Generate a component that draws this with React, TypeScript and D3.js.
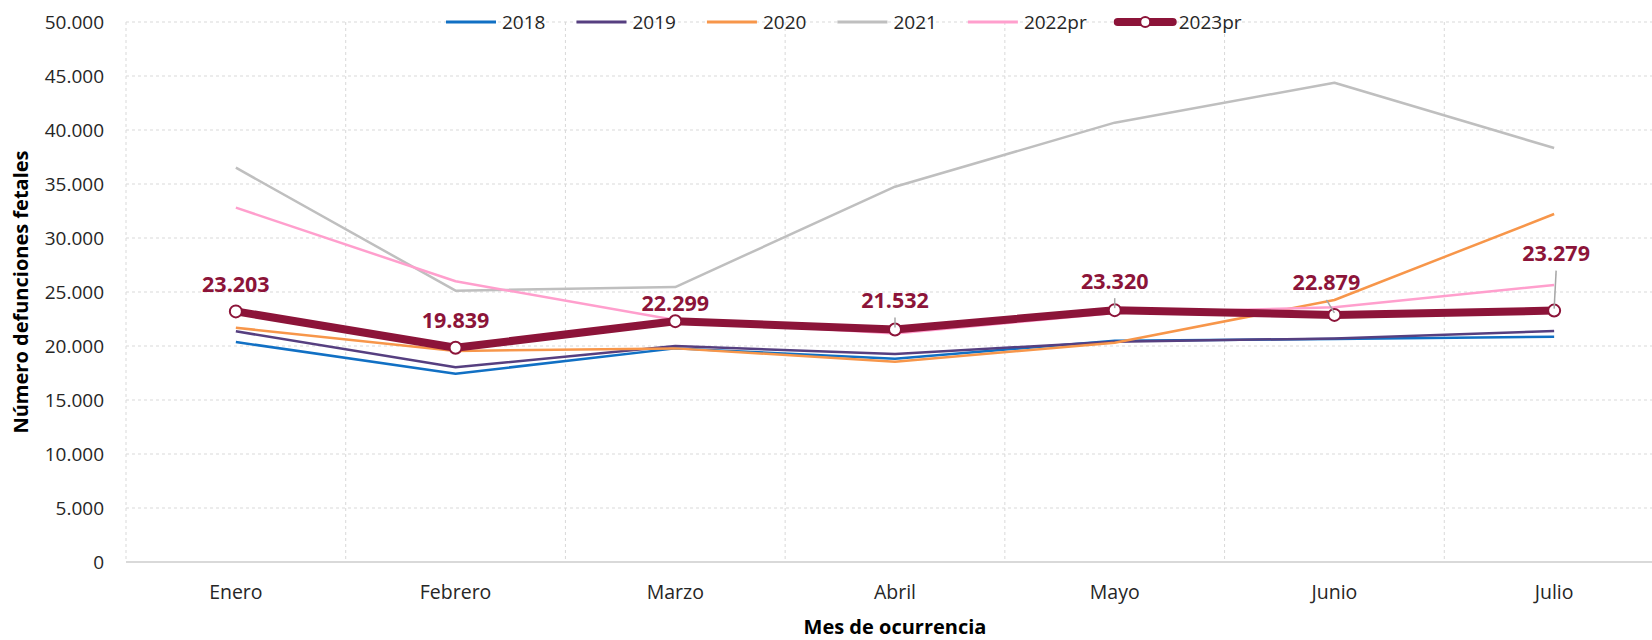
import React, { useEffect, useRef } from 'react';
import * as d3 from 'd3';

// Defunciones fetales por mes de ocurrencia
const months = ['Enero', 'Febrero', 'Marzo', 'Abril', 'Mayo', 'Junio', 'Julio'];
const seriesNames = ['2018', '2019', '2020', '2021', '2022pr', '2023pr'];

const v2018 = [20370, 17440, 19780, 18830, 20490, 20650, 20860];
const v2019 = [21360, 18030, 20000, 19260, 20400, 20700, 21390];
const v2020 = [21690, 19540, 19780, 18550, 20310, 24260, 32220];
const v2021 = [36510, 25120, 25460, 34750, 40680, 44380, 38330];
const v2022pr = [32810, 25990, 22400, 21150, 23050, 23580, 25650];
const v2023pr = [23203, 19839, 22299, 21532, 23320, 22879, 23279];

const yTicks = [0, 5000, 10000, 15000, 20000, 25000, 30000, 35000, 40000, 45000, 50000];

const colors = ['#1170c4', '#563f80', '#f7964a', '#bfbfbf', '#ff9fcd', '#8c1439'];

// where each 2023pr label sits relative to its point, and whether it gets a leader line
const labelShift = [[0, -27], [0, -27], [0, -18], [0, -29], [0, -29], [-8, -32], [2, -57]];
const hasLeader = [false, false, false, true, true, true, true];

const W = 1652;
const H = 640;
const FONT = '"Open Sans", "Noto Sans", sans-serif';

const App = () => {
  const svgRef = useRef<SVGSVGElement>(null);

  useEffect(() => {
    document.body.style.margin = '0';
    const svg = d3.select(svgRef.current);
    svg.selectAll('*').remove();

    const allSeries = [v2018, v2019, v2020, v2021, v2022pr, v2023pr];

    const x = d3.scaleBand<string>().domain(months).range([126, 1664]);
    const y = d3.scaleLinear().domain([0, 50000]).range([562, 22]);
    const cx = (m: string) => (x(m) as number) + x.bandwidth() / 2;

    const locale = d3.formatLocale({ decimal: ',', thousands: '.', grouping: [3], currency: ['', ''] });
    const fmt = locale.format(',d');

    // grid
    const grid = svg.append('g');
    grid.selectAll('line.h')
      .data(yTicks.filter(t => t > 0))
      .join('line')
      .attr('class', 'h')
      .attr('x1', 126).attr('x2', W)
      .attr('y1', d => y(d)).attr('y2', d => y(d))
      .attr('stroke', '#d9d9d9')
      .attr('stroke-dasharray', '3,3');

    grid.selectAll('line.v')
      .data(months)
      .join('line')
      .attr('class', 'v')
      .attr('x1', d => x(d) as number).attr('x2', d => x(d) as number)
      .attr('y1', y(50000)).attr('y2', y(0))
      .attr('stroke', '#d9d9d9')
      .attr('stroke-dasharray', '3,3');

    svg.append('line')
      .attr('x1', 126).attr('x2', W)
      .attr('y1', y(0)).attr('y2', y(0))
      .attr('stroke', '#d9d9d9')
      .attr('stroke-width', 2);

    // y tick labels
    svg.append('g')
      .selectAll('text')
      .data(yTicks)
      .join('text')
      .attr('x', 104)
      .attr('y', d => y(d))
      .attr('dy', '0.35em')
      .attr('text-anchor', 'end')
      .style('font-family', FONT)
      .style('font-size', '19px')
      .style('fill', '#262626')
      .text(d => fmt(d));

    // x tick labels
    svg.append('g')
      .selectAll('text')
      .data(months)
      .join('text')
      .attr('x', d => cx(d))
      .attr('y', 599)
      .attr('text-anchor', 'middle')
      .style('font-family', FONT)
      .style('font-size', '19.5px')
      .style('fill', '#262626')
      .text(d => d);

    // axis titles
    svg.append('text')
      .attr('x', (126 + 1664) / 2)
      .attr('y', 634)
      .attr('text-anchor', 'middle')
      .style('font-family', FONT)
      .style('font-size', '20px')
      .style('font-weight', '700')
      .style('fill', '#000')
      .text('Mes de ocurrencia');

    svg.append('text')
      .attr('transform', `translate(28,${(22 + 562) / 2}) rotate(-90)`)
      .attr('text-anchor', 'middle')
      .style('font-family', FONT)
      .style('font-size', '20px')
      .style('font-weight', '700')
      .style('fill', '#000')
      .text('Número defunciones fetales');

    // lines
    const line = d3.line<number>()
      .x((_, i) => cx(months[i]))
      .y(d => y(d));

    svg.append('g')
      .selectAll('path')
      .data(allSeries)
      .join('path')
      .attr('d', d => line(d))
      .attr('fill', 'none')
      .attr('stroke', (_, i) => colors[i])
      .attr('stroke-width', (_, i) => (i === 5 ? 8 : 2.5))
      .attr('stroke-linejoin', 'round');

    // 2023pr markers
    svg.append('g')
      .selectAll('circle')
      .data(v2023pr)
      .join('circle')
      .attr('cx', (_, i) => cx(months[i]))
      .attr('cy', d => y(d))
      .attr('r', 6)
      .attr('fill', '#fff')
      .attr('stroke', colors[5])
      .attr('stroke-width', 2);

    // leader lines
    svg.append('g')
      .selectAll('line')
      .data(v2023pr.map((v, i) => ({ v, i })).filter(d => hasLeader[d.i]))
      .join('line')
      .attr('x1', d => cx(months[d.i]) + labelShift[d.i][0])
      .attr('y1', d => y(d.v) + labelShift[d.i][1] + 17)
      .attr('x2', d => cx(months[d.i]))
      .attr('y2', d => y(d.v) - 2)
      .attr('stroke', '#a6a6a6')
      .attr('stroke-width', 1.5);

    // data labels
    svg.append('g')
      .selectAll('text')
      .data(v2023pr)
      .join('text')
      .attr('x', (_, i) => cx(months[i]) + labelShift[i][0])
      .attr('y', (d, i) => y(d) + labelShift[i][1])
      .attr('dy', '0.35em')
      .attr('text-anchor', 'middle')
      .style('font-family', FONT)
      .style('font-size', '21.5px')
      .style('font-weight', '700')
      .style('fill', colors[5])
      .text(d => fmt(d));

    // legend
    const legend = svg.append('g');
    let lx = 446;
    const ly = 22;
    seriesNames.forEach((name, i) => {
      const g = legend.append('g').attr('transform', `translate(${lx},${ly})`);
      const lineLen = i === 5 ? 55 : 50;
      g.append('line')
        .attr('x1', 0).attr('x2', lineLen)
        .attr('y1', 0).attr('y2', 0)
        .attr('stroke', colors[i])
        .attr('stroke-width', i === 5 ? 8 : 3)
        .attr('stroke-linecap', i === 5 ? 'round' : 'butt');
      if (i === 5) {
        g.append('circle')
          .attr('cx', lineLen / 2).attr('cy', 0).attr('r', 5)
          .attr('fill', '#fff')
          .attr('stroke', colors[5])
          .attr('stroke-width', 2);
      }
      const t = g.append('text')
        .attr('x', lineLen + 6)
        .attr('y', 0)
        .attr('dy', '0.35em')
        .style('font-family', FONT)
        .style('font-size', '19px')
        .style('fill', '#262626')
        .text(name);
      const tw = (t.node() as SVGTextElement).getComputedTextLength();
      lx += lineLen + 6 + tw + 31;
    });
  }, []);

  return <svg ref={svgRef} width={W} height={H} style={{ display: 'block', background: '#fff' }} />;
};

export default App;
